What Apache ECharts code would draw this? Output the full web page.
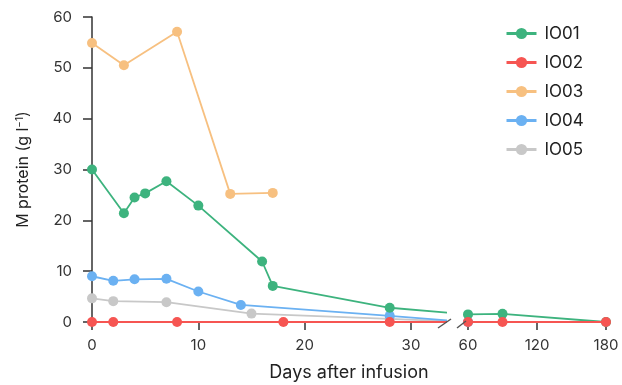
<!DOCTYPE html>
<html>
<head>
<meta charset="utf-8">
<script src="https://cdn.jsdelivr.net/npm/echarts@6/dist/echarts.min.js"></script>
<style>
  html, body { margin: 0; padding: 0; background: #ffffff; }
  #chart { width: 622px; height: 385px; }
</style>
</head>
<body>
<div id="chart"></div>
<script>
// Serum M-protein per patient over days after infusion
const seriesNames = ['IO01', 'IO02', 'IO03', 'IO04', 'IO05'];
const seriesColors = ['#3db37e', '#f65552', '#f7c080', '#6bb1f2', '#c8c8c8'];

const daysIO01 = [0, 3, 4, 5, 7, 10, 16, 17, 28, 60, 90, 180];
const mProtIO01 = [30, 21.4, 24.5, 25.3, 27.7, 22.9, 11.9, 7.1, 2.8, 1.5, 1.6, 0];

const daysIO02 = [0, 2, 8, 18, 28, 60, 90, 180];
const mProtIO02 = [0, 0, 0, 0, 0, 0, 0, 0];

const daysIO03 = [0, 3, 8, 13, 17];
const mProtIO03 = [54.9, 50.5, 57.1, 25.2, 25.4];

const daysIO04 = [0, 2, 4, 7, 10, 14, 28, 60];
const mProtIO04 = [9.0, 8.1, 8.4, 8.5, 6.0, 3.35, 1.2, 0];

const daysIO05 = [0, 2, 7, 15, 28, 60];
const mProtIO05 = [4.65, 4.1, 3.9, 1.65, 0.6, 0];

const leftTickDays = [0, 10, 20, 30];
const rightTickDays = [60, 120, 180];
const yMin = 0, yMax = 60, yStep = 10;

// Broken x axis: early days on a wide scale, late follow-up compressed
const LEFT_MAX_DAY = 33.2;
const RIGHT_MIN_DAY = 60, RIGHT_MAX_DAY = 180;
const plotLeft = 92, plotTop = 17, plotBottomPx = 322;
const leftWidth = 353, breakGap = 23, rightWidth = 138;
const rightLeft = plotLeft + leftWidth + breakGap;
const plotHeight = plotBottomPx - plotTop;

// position of a late day expressed in left-axis units, so that lines leaving
// the left panel head toward their next point across the break
function bridgeX(day) {
  const pxPerDayLeft = leftWidth / LEFT_MAX_DAY;
  const pxPerDayRight = rightWidth / (RIGHT_MAX_DAY - RIGHT_MIN_DAY);
  const px = leftWidth + breakGap + (day - RIGHT_MIN_DAY) * pxPerDayRight;
  return px / pxPerDayLeft;
}

const patients = [
  { name: 'IO01', days: daysIO01, vals: mProtIO01, color: seriesColors[0], z: 3 },
  { name: 'IO02', days: daysIO02, vals: mProtIO02, color: seriesColors[1], z: 5 },
  { name: 'IO03', days: daysIO03, vals: mProtIO03, color: seriesColors[2], z: 4 },
  { name: 'IO04', days: daysIO04, vals: mProtIO04, color: seriesColors[3], z: 2 },
  { name: 'IO05', days: daysIO05, vals: mProtIO05, color: seriesColors[4], z: 1 }
];

const series = [];
patients.forEach(p => {
  const leftData = [];
  const rightData = [];
  let bridged = false;
  p.days.forEach((d, i) => {
    if (d <= LEFT_MAX_DAY) {
      leftData.push([d, p.vals[i]]);
    } else {
      if (!bridged) {
        leftData.push({ value: [bridgeX(d), p.vals[i]], symbol: 'none' });
        bridged = true;
      }
      rightData.push([d, p.vals[i]]);
    }
  });
  const common = {
    type: 'line',
    name: p.name,
    symbol: 'circle',
    symbolSize: 10,
    z: p.z,
    clip: true,
    lineStyle: { color: p.color, width: 1.8 },
    itemStyle: { color: p.color },
    emphasis: { disabled: true },
    animation: false
  };
  series.push(Object.assign({}, common, { xAxisIndex: 0, yAxisIndex: 0, data: leftData }));
  if (rightData.length) {
    series.push(Object.assign({}, common, { xAxisIndex: 1, yAxisIndex: 1, data: rightData }));
  }
});

const axisColor = '#333333';
const tickLabelStyle = { color: '#333333', fontSize: 15, fontFamily: 'Inter' };

const option = {
  backgroundColor: '#ffffff',
  animation: false,
  textStyle: { fontFamily: 'Inter' },
  legend: {
    data: seriesNames,
    orient: 'vertical',
    left: 505,
    top: 25,
    padding: 0,
    itemWidth: 30,
    itemHeight: 14,
    itemGap: 12,
    lineStyle: { width: 3 },
    textStyle: { color: '#222222', fontSize: 17, fontFamily: 'Inter', padding: [0, 0, 0, 3] },
    selectedMode: false
  },
  grid: [
    { left: plotLeft, top: plotTop, width: leftWidth, height: plotHeight, containLabel: false },
    { left: rightLeft, top: plotTop, width: rightWidth, height: plotHeight, containLabel: false }
  ],
  xAxis: [
    {
      type: 'value', gridIndex: 0, min: 0, max: LEFT_MAX_DAY,
      axisLine: { show: false },
      splitLine: { show: false },
      axisTick: { show: true, length: 8, customValues: leftTickDays, lineStyle: { color: axisColor, width: 1.5 } },
      axisLabel: { customValues: leftTickDays, margin: 16, ...tickLabelStyle }
    },
    {
      type: 'value', gridIndex: 1, min: RIGHT_MIN_DAY, max: RIGHT_MAX_DAY,
      axisLine: { show: false },
      splitLine: { show: false },
      axisTick: { show: true, length: 8, customValues: rightTickDays, lineStyle: { color: axisColor, width: 1.5 } },
      axisLabel: { customValues: rightTickDays, margin: 16, ...tickLabelStyle }
    }
  ],
  yAxis: [
    {
      type: 'value', gridIndex: 0, min: yMin, max: yMax, interval: yStep,
      name: 'M protein (g l{sup|−1})',
      nameLocation: 'middle',
      nameGap: 61,
      nameTextStyle: {
        color: '#222222', fontSize: 16, fontFamily: 'Inter',
        rich: { sup: { fontSize: 10, verticalAlign: 'top', color: '#222222', fontFamily: 'Inter', padding: [0, 0, 6, 0] } }
      },
      axisLine: { show: true, lineStyle: { color: axisColor, width: 1.5 } },
      axisTick: { show: true, length: 9, lineStyle: { color: axisColor, width: 1.5 } },
      splitLine: { show: false },
      axisLabel: { margin: 20, ...tickLabelStyle }
    },
    {
      type: 'value', gridIndex: 1, min: yMin, max: yMax, interval: yStep,
      show: false
    }
  ],
  graphic: [
    {
      type: 'text',
      x: plotLeft + (leftWidth + breakGap + rightWidth) / 2,
      y: 373,
      style: { text: 'Days after infusion', fill: '#222222', font: '18px Inter', textAlign: 'center', textVerticalAlign: 'middle' }
    },
    {
      type: 'line', z: 10,
      shape: { x1: plotLeft + leftWidth - 7, y1: plotBottomPx + 6, x2: plotLeft + leftWidth + 6, y2: plotBottomPx - 3 },
      style: { stroke: '#555555', lineWidth: 1.5 }
    },
    {
      type: 'line', z: 10,
      shape: { x1: rightLeft - 11, y1: plotBottomPx + 6, x2: rightLeft - 2, y2: plotBottomPx - 1 },
      style: { stroke: '#555555', lineWidth: 1.5 }
    }
  ],
  series: series
};

const chart = echarts.init(document.getElementById('chart'), null, { renderer: 'canvas' });
chart.setOption(option);
</script>
</body>
</html>
